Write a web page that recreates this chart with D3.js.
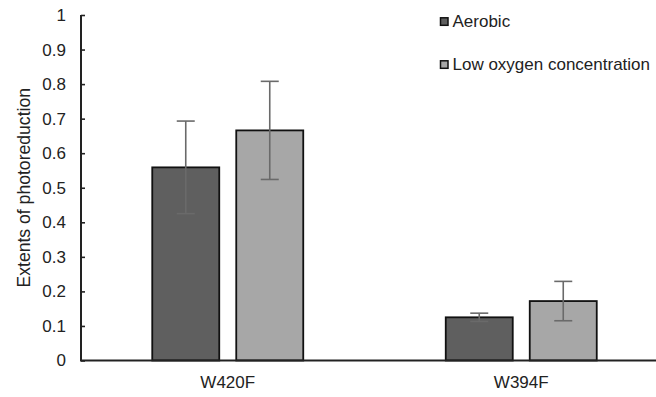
<!DOCTYPE html>
<html><head><meta charset="utf-8">
<script src="https://cdn.jsdelivr.net/npm/d3@7"></script>
<style>
html,body{margin:0;padding:0;background:#fff;}
svg{display:block;font-family:"Liberation Sans",Arial,sans-serif;}
</style></head>
<body><svg id="c" width="656" height="397"></svg>
<script>
const categories = ["W420F", "W394F"];
const seriesNames = ["Aerobic", "Low oxygen concentration"];
const aerobic = [0.559, 0.125];
const aerobicErr = [0.134, 0.012];
const lowOxygen = [0.666, 0.172];
const lowOxygenErr = [0.142, 0.057];
const yTicks = [0, 0.1, 0.2, 0.3, 0.4, 0.5, 0.6, 0.7, 0.8, 0.9, 1];
const yTickLabels = ["0", "0.1", "0.2", "0.3", "0.4", "0.5", "0.6", "0.7", "0.8", "0.9", "1"];
const colors = ["#5f5f5f", "#a7a7a7"];

const series = [
  {name: seriesNames[0], values: aerobic, errs: aerobicErr, color: colors[0]},
  {name: seriesNames[1], values: lowOxygen, errs: lowOxygenErr, color: colors[1]}
];

const svg = d3.select("#c");
const axisX = 81, y0 = 360.5, y1 = 15;
const y = d3.scaleLinear().domain([0, 1]).range([y0, y1]);
const x = d3.scaleBand().domain(categories).range([axisX, axisX + 587]).padding(0);
const inner = d3.scaleBand().domain(seriesNames).range([-75.5, 75.5]).paddingInner(17/84).paddingOuter(0);

// bars
series.forEach(s => {
  categories.forEach((c, i) => {
    const cx = x(c) + x.bandwidth()/2;
    const bx = cx + inner(s.name);
    svg.append("rect")
      .attr("x", bx).attr("y", y(s.values[i]))
      .attr("width", inner.bandwidth())
      .attr("height", y(0) - y(s.values[i]))
      .attr("fill", s.color).attr("stroke", "#111").attr("stroke-width", 1.8);
  });
});

// error bars
series.forEach(s => {
  categories.forEach((c, i) => {
    const cx = x(c) + x.bandwidth()/2 + inner(s.name) + inner.bandwidth()/2;
    const top = y(s.values[i] + s.errs[i]), bot = y(s.values[i] - s.errs[i]);
    const g = svg.append("g").attr("stroke", "#6a6a6a").attr("stroke-width", 1.6);
    g.append("line").attr("x1", cx).attr("x2", cx).attr("y1", top).attr("y2", bot);
    g.append("line").attr("x1", cx-9).attr("x2", cx+9).attr("y1", top).attr("y2", top);
    g.append("line").attr("x1", cx-9).attr("x2", cx+9).attr("y1", bot).attr("y2", bot);
  });
});

// y axis
const yAxis = d3.axisRight(y).tickValues(yTicks).tickSize(4).tickFormat("");
const ga = svg.append("g").attr("transform", `translate(${axisX},0)`).call(yAxis);
ga.select(".domain").remove();
ga.selectAll(".tick line").attr("stroke", "#222").attr("stroke-width", 1.6);
svg.append("line").attr("x1", axisX).attr("x2", axisX).attr("y1", y(1)).attr("y2", y(0))
  .attr("stroke", "#222").attr("stroke-width", 2);
svg.append("line").attr("x1", axisX-1).attr("x2", 656).attr("y1", y(0)).attr("y2", y(0))
  .attr("stroke", "#222").attr("stroke-width", 2);

svg.selectAll(".ytl").data(yTicks).enter().append("text")
  .attr("x", 66).attr("y", d => y(d)).attr("dy", "0.35em")
  .attr("text-anchor", "end").attr("font-size", 17).attr("fill", "#222")
  .text((d, i) => yTickLabels[i]);

// x labels
svg.selectAll(".xtl").data(categories).enter().append("text")
  .attr("x", d => x(d) + x.bandwidth()/2).attr("y", 387.5)
  .attr("text-anchor", "middle").attr("font-size", 17).attr("fill", "#222")
  .text(d => d);

// y title
svg.append("text")
  .attr("transform", `translate(29.5,${(y(0)+y(1))/2}) rotate(-90)`)
  .attr("text-anchor", "middle").attr("font-size", 17.6).attr("fill", "#222")
  .text("Extents of photoreduction");

// legend
const leg = svg.append("g");
series.forEach((s, i) => {
  const ly = 27.3 + i * 43;
  leg.append("rect").attr("x", 440.5).attr("y", ly - 9.5).attr("width", 7.5).attr("height", 7.5)
    .attr("fill", s.color).attr("stroke", "#111").attr("stroke-width", 1.5);
  leg.append("text").attr("x", 452.5).attr("y", ly).attr("font-size", 17).attr("fill", "#222").text(s.name);
});
</script></body></html>
